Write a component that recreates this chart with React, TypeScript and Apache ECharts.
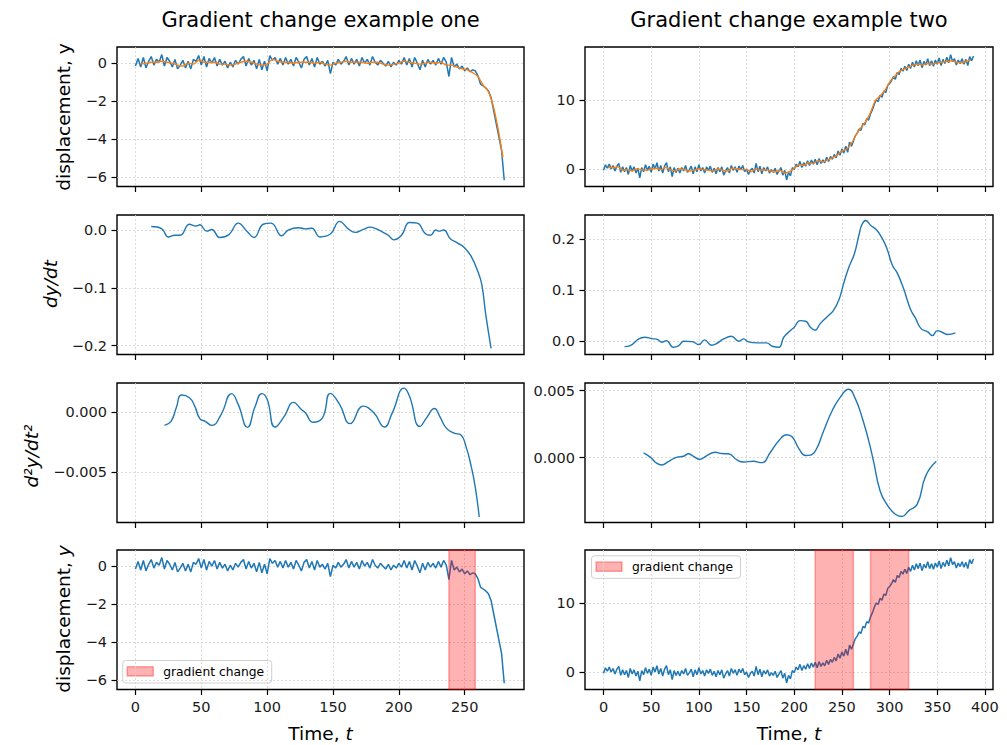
import React, { useEffect, useRef } from "react";
import * as echarts from "echarts";

// ---- data ----------------------------------------------------------------
// Example one: raw displacement sampled every 2 time units (t = 0..280)
const RAW_ONE_STEP = 2;
const rawOne = [
  -0.15, 0.25, -0.2, 0.3, -0.25, 0.1, 0.35, -0.1, 0.2, 0.05, 0.45, -0.15, 0.3, 0.1, -0.2, 0.2, -0.3, -0.1, 0.15, -0.25,
  0.1, -0.3, 0.2, 0.1, 0.4, -0.1, 0.35, -0.2, 0.25, 0.0, 0.3, -0.15, 0.2, -0.1, 0.1, -0.25, 0.05, -0.2, 0.15, -0.05,
  0.2, 0.35, -0.15, 0.25, -0.1, 0.15, -0.3, 0.2, -0.35, 0.1, -0.4, 0.4, 0.15, 0.3, -0.05, 0.25, -0.1, 0.3, -0.05, 0.2,
  -0.15, 0.3, 0.05, -0.25, 0.2, 0.35, -0.1, 0.25, -0.2, 0.3, -0.05, 0.1, -0.15, 0.15, -0.55, 0.05, -0.1, 0.2, -0.05, 0.1,
  0.35, -0.1, 0.25, -0.05, 0.2, -0.15, 0.3, 0.0, 0.2, -0.1, 0.35, 0.05, -0.1, 0.15, 0.0, -0.15, 0.1, -0.2, 0.05, -0.1,
  0.15, -0.05, 0.3, -0.1, 0.25, -0.2, 0.3, 0.0, -0.35, 0.15, -0.2, 0.2, -0.05, 0.15, -0.1, 0.25, -0.05, 0.3, 0.05, -0.7,
  0.3, -0.2, -0.05, -0.3, -0.15, -0.4, -0.25, -0.45, -0.35, -0.4, -0.65, -1.1, -1.2, -1.3, -1.45, -1.8, -2.5, -3.2, -3.9, -4.6, -6.15,
];

// Example one: smoothed displacement
const smoothOneT = [
  4, 8, 12, 16, 20, 24, 28, 32, 36, 40, 44, 48, 52, 56, 60, 64, 68, 72, 76, 80, 84, 88, 92, 96, 100, 104, 108, 112, 116, 120,
  124, 128, 132, 136, 140, 144, 148, 152, 156, 160, 164, 168, 172, 176, 180, 184, 188, 192, 196, 200, 204, 208, 212, 216, 220,
  224, 228, 232, 236, 240, 244, 248, 252, 256, 260, 264, 268, 272, 276, 279,
];
const smoothOneV = [
  -0.05, 0.0, 0.05, 0.05, 0.1, 0.05, 0.0, -0.1, -0.15, 0.0, -0.05, 0.15, 0.05, 0.05, 0.05, -0.05, -0.05, -0.1, -0.05, 0.05,
  0.1, 0.05, -0.05, -0.1, -0.05, 0.2, 0.1, 0.05, 0.05, 0.0, 0.05, 0.05, 0.05, 0.0, 0.05, -0.05, -0.1, 0.0, 0.05, 0.1,
  0.05, 0.05, 0.05, 0.0, 0.05, 0.05, -0.05, -0.1, -0.05, 0.0, 0.1, 0.05, 0.0, -0.05, 0.0, 0.05, 0.0, 0.05, -0.1, -0.1,
  -0.2, -0.3, -0.35, -0.5, -0.7, -1.15, -1.5, -2.35, -3.7, -4.95,
];

// Example one: first derivative
const dydtOneT = [
  12, 20, 25, 30, 34, 41, 46, 49, 54, 58, 64, 71, 78, 85, 90, 97, 103, 111, 116, 124, 129, 134, 140, 148, 155, 162, 167,
  173, 178, 183, 188, 192, 196, 202, 208, 214, 220, 224, 228, 230, 234, 239, 245, 250, 255, 260, 263, 266, 270,
];
const dydtOneV = [
  0.006, 0.002, -0.012, -0.009, -0.009, 0.01, 0.007, 0.009, -0.002, 0.001, -0.013, -0.008, 0.012, -0.003, -0.013, 0.01,
  0.012, -0.01, 0.0, 0.004, 0.002, 0.003, -0.012, -0.007, 0.015, 0.001, -0.004, 0.001, 0.005, 0.002, -0.004, -0.009,
  -0.017, -0.009, 0.013, 0.012, -0.006, -0.009, 0.0, -0.002, 0.0, -0.015, -0.023, -0.031, -0.046, -0.072, -0.095, -0.147, -0.205,
];

// Example one: second derivative
const d2OneT = [
  22, 27, 31, 35, 41, 45, 49, 53, 58, 65, 73, 78, 85, 91, 96, 100, 106, 113, 120, 126, 129, 135, 142, 148, 155, 163, 173,
  181, 189, 195, 204, 208, 216, 221, 227, 231, 236, 242, 247, 251, 255, 258, 261,
];
const d2OneV = [
  -0.00112, -0.00079, 0.00034, 0.0014, 0.00118, 0.00048, -0.00059, -0.00079, -0.00112, -0.00022, 0.00152, 0.00062,
  -0.00129, 0.00048, 0.00152, 0.00104, -0.00126, -0.00037, 0.00079, 0.0002, -0.00008, -0.00087, -0.0005, 0.00154,
  0.00062, -0.00098, 0.00048, -0.00008, -0.00126, -0.00008, 0.00197, 0.00132, -0.00121, -0.0005, 0.00028, -0.00037,
  -0.00135, -0.00177, -0.00191, -0.00289, -0.00458, -0.00626, -0.00874,
];

// Example two: raw displacement sampled every 2 time units (t = 0..388)
const RAW_TWO_STEP = 2;
const rawTwo = [
  -0.2, 0.6, 0.1, 0.7, 0.0, 0.5, -0.3, 0.4, 0.8, -0.5, 0.3, -0.4, 0.2, -0.8, 0.5, -0.3, 0.3, -0.6, 0.1, -1.3,
  0.2, -0.4, 0.6, -0.2, 0.4, -0.5, 0.7, 0.0, 0.9, -0.3, 0.5, -0.6, 0.4, 0.9, -0.4, 0.3, -1.1, 0.2, -0.5, 0.1,
  -0.6, 0.2, -0.3, 0.5, -0.5, -0.1, 0.4, -0.7, 0.3, -0.4, 0.6, -0.3, 0.2, -0.6, 0.3, -0.2, 0.4, -0.5, 0.1, -0.7,
  0.2, -0.4, 0.3, -0.9, -0.3, 0.2, -0.6, 0.5, -0.2, 0.3, -0.5, 0.4, -0.1, 0.5, -0.4, 0.0, -0.8, -0.2, 0.1, -0.6,
  0.8, -0.4, 0.4, -0.7, 0.2, -0.3, 0.3, -0.6, -0.1, -0.5, 0.1, -0.8, -0.3, 0.2, -0.9, -0.2, -1.6, -0.5, -1.0, 0.2,
  -0.1, 0.7, 0.3, 1.1, 0.2, 0.9, 0.4, 1.2, 0.5, 1.3, 0.7, 1.4, 0.6, 1.5, 0.8, 1.3, 0.9, 1.7, 1.1, 1.8,
  1.4, 2.1, 1.6, 2.6, 2.0, 2.9, 2.3, 3.3, 2.4, 3.9, 3.3, 4.0, 4.8, 5.2, 5.8, 5.6, 6.6, 6.4, 7.3, 7.1,
  8.0, 8.6, 9.4, 10.0, 9.8, 10.7, 10.4, 11.3, 11.1, 12.1, 12.4, 12.8, 13.4, 13.0, 14.0, 13.7, 14.6, 14.2, 14.9, 14.3,
  15.2, 14.6, 15.5, 14.8, 15.7, 15.0, 15.8, 14.7, 15.6, 15.1, 16.0, 15.0, 15.7, 14.9, 15.8, 15.2, 16.1, 15.0, 15.9, 15.3,
  16.2, 15.4, 16.6, 15.6, 16.0, 15.1, 15.8, 15.3, 16.0, 15.2, 15.9, 15.0, 16.3, 15.7, 16.4,
];

// Example two: smoothed displacement, every 5 time units from t = 5
const SMOOTH_TWO_STEP = 5;
const smoothTwo = [
  0.2, 0.2, 0.3, -0.2, -0.1, -0.3, 0.0, -0.1, -0.2, 0.0, 0.1, -0.1, 0.2, -0.1, -0.3, 0.0, -0.1, -0.3, -0.2, 0.0,
  -0.1, -0.2, -0.3, 0.0, -0.2, -0.3, 0.1, 0.0, -0.1, -0.1, -0.4, 0.0, -0.2, -0.1, -0.3, -0.4, -0.2, -0.6, -0.4, 0.1,
  0.6, 0.5, 0.9, 0.8, 1.2, 1.0, 1.3, 1.6, 2.0, 2.6, 2.9, 3.7, 5.0, 6.0, 6.9, 8.2, 9.9, 10.6, 11.4, 12.6,
  13.4, 14.1, 14.5, 14.8, 15.1, 15.2, 15.1, 15.3, 15.2, 15.4, 15.5, 15.6, 15.7, 15.5, 15.4, 15.6, 15.8,
];

// Example two: first derivative
const dydtTwoT = [
  22, 28, 37, 43, 51, 57, 61, 66, 73, 79, 84, 93, 100, 106, 113, 118, 126, 134, 142, 147, 152, 161, 171, 177, 184, 189,
  196, 200, 206, 212, 217, 222, 227, 234, 241, 247, 252, 257, 263, 268, 271, 275, 280, 286, 292, 297, 303, 308, 315, 322,
  327, 333, 340, 345, 350, 355, 361, 369,
];
const dydtTwoV = [
  -0.0105, -0.0085, 0.0046, 0.0078, 0.0052, 0.0033, -0.002, 0.0013, -0.0118, -0.0085, 0.0, -0.0007, -0.0065, 0.0026,
  -0.0078, -0.0052, 0.0046, 0.0098, 0.0, 0.0046, -0.0013, -0.0033, -0.0033, -0.0098, -0.0118, 0.0078, 0.0209, 0.0275,
  0.0405, 0.0392, 0.0275, 0.0216, 0.034, 0.047, 0.0601, 0.0817, 0.1144, 0.1438, 0.1712, 0.2092, 0.2288, 0.2366, 0.2275,
  0.219, 0.2026, 0.183, 0.1484, 0.134, 0.1013, 0.0621, 0.0458, 0.0248, 0.0183, 0.0111, 0.0209, 0.0176, 0.0131, 0.0163,
];

// Example two: second derivative
const d2TwoT = [
  42, 49, 56, 61, 68, 77, 84, 89, 94, 101, 108, 117, 124, 131, 140, 147, 157, 166, 175, 184, 192, 198, 205, 212, 217,
  223, 231, 240, 248, 257, 264, 271, 278, 283, 290, 297, 306, 313, 320, 329, 338, 349,
];
const d2TwoV = [
  0.00035, 0.00003, -0.00043, -0.00055, -0.0003, 0.00003, 0.0001, 0.00028, 0.0001, -0.00013, 0.00013, 0.0004, 0.0003,
  0.00028, -0.00018, -0.00033, -0.00028, -0.00038, 0.0004, 0.00128, 0.0017, 0.00153, 0.00065, 0.00015, 0.00018, 0.0006,
  0.00203, 0.00353, 0.00448, 0.0051, 0.0044, 0.00303, 0.00128, -0.00023, -0.00248, -0.00348, -0.00423, -0.0044,
  -0.00398, -0.00348, -0.00135, -0.00028,
];

// Detected gradient-change intervals [start, end]
const changeOne = [[238, 258]];
const changeTwo = [[222, 262], [280, 320]];

// Axis ticks
const xTicksOne = [0, 50, 100, 150, 200, 250];
const xTicksTwo = [0, 50, 100, 150, 200, 250, 300, 350, 400];
const yTicksDispOne = [-6, -4, -2, 0];
const yTicksDispTwo = [0, 10];
const yTicksDydtOne = [-0.2, -0.1, 0];
const yTicksDydtTwo = [0, 0.1, 0.2];
const yTicksD2One = [-0.005, 0];
const yTicksD2Two = [0, 0.005];

const TITLES = ["Gradient change example one", "Gradient change example two"];
const LEGEND_LABEL = "gradient change";

// ---- styling / layout ---------------------------------------------------
const FONT = "'DejaVu Sans', 'Liberation Sans', sans-serif";
const BLUE = "#1f77b4";
const ORANGE = "#ff7f0e";
const SPAN_FILL = "rgba(255,0,0,0.3)";
const SPAN_EDGE = "rgba(255,0,0,0.32)";
const LABEL_SIZE = 18.5;
const TITLE_SIZE = 21;

const COL_LEFT = [117, 585];
const COL_WIDTH = [407, 408];
const ROW_TOP = [47, 215, 383, 550];
const ROW_HEIGHT = 139.5;
const X_RANGE = [
  [-14, 295],
  [-19.45, 408.45],
];

const fmt = (dec: number) => (v: number) => {
  const s = Math.abs(v) < 1e-12 ? (0).toFixed(dec) : v.toFixed(dec);
  return s.replace("-", "\u2212");
};

const pairs = (t: number[], v: number[]) => t.map((x, i) => [x, v[i]]);
const stepped = (v: number[], step: number, start = 0) => v.map((y, i) => [start + i * step, y]);

export default function App() {
  const ref = useRef<HTMLDivElement>(null);

  useEffect(() => {
    if (!ref.current) return;
    const chart = echarts.init(ref.current, undefined, { renderer: "svg" });

    const panels = [
      { col: 0, row: 0, yMin: -6.48, yMax: 0.85, ticks: yTicksDispOne, dec: 0 },
      { col: 1, row: 0, yMin: -2.55, yMax: 17.7, ticks: yTicksDispTwo, dec: 0 },
      { col: 0, row: 1, yMin: -0.2155, yMax: 0.026, ticks: yTicksDydtOne, dec: 1 },
      { col: 1, row: 1, yMin: -0.026, yMax: 0.2475, ticks: yTicksDydtTwo, dec: 1 },
      { col: 0, row: 2, yMin: -0.0092, yMax: 0.0024, ticks: yTicksD2One, dec: 3 },
      { col: 1, row: 2, yMin: -0.00485, yMax: 0.00557, ticks: yTicksD2Two, dec: 3 },
      { col: 0, row: 3, yMin: -6.48, yMax: 0.85, ticks: yTicksDispOne, dec: 0 },
      { col: 1, row: 3, yMin: -2.55, yMax: 17.7, ticks: yTicksDispTwo, dec: 0 },
    ];

    const tickLabelStyle = { fontFamily: FONT, fontSize: 14.5, color: "#1a1a1a" };
    const splitLine = { show: true, lineStyle: { color: "#d2d2d2", width: 0.8, type: [2, 2] as any } };
    const axisTick = (values: number[]) => ({
      show: true,
      inside: false,
      length: 5.5,
      lineStyle: { color: "#000", width: 1.2 },
      customValues: values,
    });

    const grid = panels.map((p) => ({
      left: COL_LEFT[p.col],
      top: ROW_TOP[p.row],
      width: COL_WIDTH[p.col],
      height: ROW_HEIGHT,
      show: true,
      borderColor: "#000",
      borderWidth: 1.4,
      backgroundColor: "transparent",
      containLabel: false,
    }));

    const xAxis = panels.map((p, i) => {
      const ticks = p.col === 0 ? xTicksOne : xTicksTwo;
      return {
        type: "value",
        gridIndex: i,
        position: "bottom",
        min: X_RANGE[p.col][0],
        max: X_RANGE[p.col][1],
        axisLine: { show: false, onZero: false },
        axisTick: axisTick(ticks),
        axisLabel: {
          show: p.row === 3,
          customValues: ticks,
          margin: 10,
          ...tickLabelStyle,
          formatter: fmt(0),
        },
        splitLine,
      };
    });

    const yAxis = panels.map((p, i) => ({
      type: "value",
      gridIndex: i,
      position: "left",
      min: p.yMin,
      max: p.yMax,
      axisLine: { show: false, onZero: false },
      axisTick: axisTick(p.ticks),
      axisLabel: {
        show: true,
        customValues: p.ticks,
        margin: 10,
        ...tickLabelStyle,
        formatter: fmt(p.dec),
      },
      splitLine,
    }));

    const line = (idx: number, data: number[][], color: string, smooth: number | boolean = false, z = 2, width = 1.4) => ({
      type: "line",
      xAxisIndex: idx,
      yAxisIndex: idx,
      data,
      showSymbol: false,
      symbol: "none",
      smooth,
      z,
      lineStyle: { color, width },
      itemStyle: { color },
      emphasis: { disabled: true },
      silent: true,
    });

    const spans = (idx: number, ranges: number[][]) => ({
      type: "line",
      xAxisIndex: idx,
      yAxisIndex: idx,
      data: [],
      z: 5,
      silent: true,
      markArea: {
        silent: true,
        z: 5,
        itemStyle: { color: SPAN_FILL, borderColor: SPAN_EDGE, borderWidth: 1.5 },
        data: ranges.map((r) => [{ xAxis: r[0] }, { xAxis: r[1] }]),
      },
    });

    const rawOneData = stepped(rawOne, RAW_ONE_STEP);
    const rawTwoData = stepped(rawTwo, RAW_TWO_STEP);

    const series = [
      line(0, rawOneData, BLUE, false, 2, 1.5),
      line(0, pairs(smoothOneT, smoothOneV), ORANGE, 0.3, 3),
      line(1, rawTwoData, BLUE, false, 2, 1.5),
      line(1, stepped(smoothTwo, SMOOTH_TWO_STEP, SMOOTH_TWO_STEP), ORANGE, 0.3, 3),
      line(2, pairs(dydtOneT, dydtOneV), BLUE, 0.45),
      line(3, pairs(dydtTwoT, dydtTwoV), BLUE, 0.45),
      line(4, pairs(d2OneT, d2OneV), BLUE, 0.5),
      line(5, pairs(d2TwoT, d2TwoV), BLUE, 0.5),
      line(6, rawOneData, BLUE, false, 2, 1.5),
      spans(6, changeOne),
      line(7, rawTwoData, BLUE, false, 2, 1.5),
      spans(7, changeTwo),
    ];

    const nameFont = (size: number, italic = false) => ({
      fontFamily: FONT,
      fontSize: size,
      fontStyle: italic ? "italic" : "normal",
      fill: "#000",
    });

    const italicRich = { i: { ...nameFont(LABEL_SIZE, true) } };

    const yName = (x: number, y: number, text: string, italic = false, rich?: any) => ({
      type: "text",
      x,
      y,
      rotation: Math.PI / 2,
      silent: true,
      style: {
        text,
        ...nameFont(LABEL_SIZE, italic),
        textAlign: "center",
        textVerticalAlign: "middle",
        rich,
      },
    });

    const legend = (bx: number, by: number) => ({
      type: "group",
      x: bx,
      y: by,
      z: 100,
      silent: true,
      children: [
        {
          type: "rect",
          shape: { x: 0, y: 0, width: 149, height: 22.5, r: 3 },
          style: { fill: "rgba(255,255,255,0.85)", stroke: "#d0d0d0", lineWidth: 1 },
        },
        {
          type: "rect",
          shape: { x: 4.5, y: 6.3, width: 26, height: 9.2 },
          style: { fill: SPAN_FILL, stroke: SPAN_EDGE, lineWidth: 1.5 },
        },
        {
          type: "text",
          x: 40.5,
          y: 11.2,
          style: {
            text: LEGEND_LABEL,
            fontFamily: FONT,
            fontSize: 12.3,
            fill: "#000",
            textAlign: "left",
            textVerticalAlign: "middle",
          },
        },
      ],
    });

    const timeLabel = (x: number) => ({
      type: "text",
      x,
      y: 733,
      silent: true,
      style: {
        text: "Time, {i|t}",
        ...nameFont(LABEL_SIZE),
        textAlign: "center",
        textVerticalAlign: "middle",
        rich: italicRich,
      },
    });

    const title = (x: number, text: string) => ({
      type: "text",
      x,
      y: 20,
      silent: true,
      style: { text, ...nameFont(TITLE_SIZE), textAlign: "center", textVerticalAlign: "middle" },
    });

    const graphic = [
      title(320.5, TITLES[0]),
      title(789, TITLES[1]),
      yName(63, 117, "displacement, y"),
      yName(50, 284, "dy/dt", true),
      yName(31, 456, "d\u00b2y/dt\u00b2", true),
      yName(63, 619, "displacement, {i|y}", false, italicRich),
      timeLabel(320.5),
      timeLabel(789),
      legend(122.7, 660.5),
      legend(591.5, 555.8),
    ];

    chart.setOption({
      animation: false,
      backgroundColor: "#ffffff",
      grid,
      xAxis,
      yAxis,
      series,
      graphic,
    } as any);

    return () => chart.dispose();
  }, []);

  return (
    <div
      ref={ref}
      style={{ position: "absolute", left: 0, top: 0, width: 1007, height: 745, background: "#fff" }}
    />
  );
}
